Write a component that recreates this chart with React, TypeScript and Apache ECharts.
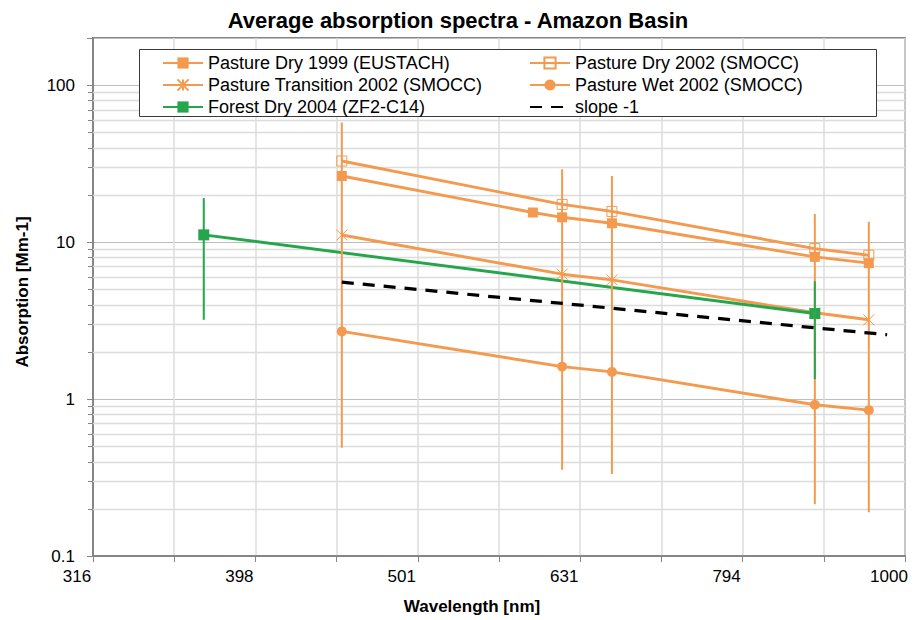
import React, { useEffect, useRef } from 'react';
import * as echarts from 'echarts';

// ---- data ----
const pastureDry1999Wl = [450, 590, 615, 660, 880, 950];
const pastureDry1999 = [26.4, 15.45, 14.4, 13.2, 8.06, 7.35];

const pastureDry2002Wl = [450, 615, 660, 880, 950];
const pastureDry2002 = [32.9, 17.4, 15.7, 9.1, 8.26];

const pastureTransitionWl = [450, 615, 660, 880, 950];
const pastureTransition2002 = [11.1, 6.25, 5.75, 3.55, 3.2];

const pastureWetWl = [450, 615, 660, 880, 950];
const pastureWet2002 = [2.7, 1.61, 1.49, 0.92, 0.85];

const forestWl = [370, 880];
const forestDry2004 = [11.13, 3.51];

const slopeWl = [450, 975];
const slopeMinusOne = [5.56, 2.57];

const pastureErrWl = [450, 615, 660, 880, 950];
const pastureErrLow = [0.49, 0.355, 0.333, 0.214, 0.19];
const pastureErrHigh = [57.8, 29.2, 26.4, 15.1, 13.5];

const forestErrWl = [370, 880];
const forestErrLow = [3.2, 1.34];
const forestErrHigh = [19.1, 5.63];

const xTickLabels = ['316', '398', '501', '631', '794', '1000'];
const yTickLabels = ['0.1', '1', '10', '100'];
const yMinorValues = [
  0.2, 0.3, 0.4, 0.5, 0.6, 0.7, 0.8, 0.9,
  2, 3, 4, 5, 6, 7, 8, 9,
  20, 30, 40, 50, 60, 70, 80, 90,
];

const ORANGE = '#F39A4E';
const GREEN = '#25A64C';
const FONT = '"Liberation Sans", Arial, sans-serif';
const AXIS_GRAY = '#868686';

const pairs = (xs: number[], ys: number[]) => xs.map((x, i) => [x, ys[i]]);
const triples = (xs: number[], lo: number[], hi: number[]) => xs.map((x, i) => [x, lo[i], hi[i]]);

const errorBarRender = (color: string) => (params: any, api: any) => {
  const x = api.value(0);
  const lo = api.coord([x, api.value(1)]);
  const hi = api.coord([x, api.value(2)]);
  return {
    type: 'line',
    shape: { x1: lo[0], y1: lo[1], x2: hi[0], y2: hi[1] },
    style: { stroke: color, lineWidth: 2 },
  };
};

export default function App() {
  const ref = useRef<HTMLDivElement>(null);

  useEffect(() => {
    if (!ref.current) return;
    const chart = echarts.init(ref.current, undefined, { renderer: 'svg' });

    const lineSeries = (name: string, data: number[][], symbol: string, symbolSize: number, color: string, itemStyle: any, z: number) => ({
      type: 'line',
      name,
      data,
      xAxisIndex: 0,
      yAxisIndex: 0,
      symbol,
      symbolSize,
      showAllSymbol: true,
      itemStyle,
      lineStyle: { color, width: 2.9 },
      z,
      silent: true,
    });

    const legendCommon = {
      orient: 'vertical',
      top: 54,
      padding: 0,
      itemWidth: 40,
      itemHeight: 14,
      itemGap: 4,
      selectedMode: false,
      z: 10,
      textStyle: { fontSize: 18, color: '#000', fontFamily: FONT },
    };

    const option: any = {
      animation: false,
      backgroundColor: '#ffffff',
      textStyle: { fontFamily: FONT },
      title: {
        text: 'Average absorption spectra - Amazon Basin',
        left: 'center',
        top: 4,
        textStyle: { fontSize: 22, fontWeight: 'bold', color: '#000', fontFamily: FONT },
      },
      grid: {
        left: 93,
        right: 11,
        top: 38,
        bottom: 63,
        show: true,
        borderColor: AXIS_GRAY,
        borderWidth: 2,
        backgroundColor: 'transparent',
      },
      legend: [
        {
          ...legendCommon,
          left: 162,
          data: ['Pasture Dry 1999 (EUSTACH)', 'Pasture Transition 2002 (SMOCC)', 'Forest Dry 2004 (ZF2-C14)'],
        },
        {
          ...legendCommon,
          left: 529,
          data: [
            'Pasture Dry 2002 (SMOCC)',
            'Pasture Wet 2002 (SMOCC)',
            { name: 'slope -1', itemStyle: { opacity: 0 } },
          ],
        },
      ],
      graphic: {
        elements: [
          {
            type: 'rect',
            z: 9,
            shape: { x: 139.5, y: 49.5, width: 737, height: 67 },
            style: { fill: '#ffffff', stroke: '#3a3a3a', lineWidth: 1 },
            silent: true,
          },
        ],
      },
      xAxis: [
        {
          type: 'log',
          logBase: 10,
          min: Math.pow(10, 2.5),
          max: 1000,
          show: false,
          gridIndex: 0,
        },
        {
          type: 'value',
          gridIndex: 0,
          position: 'bottom',
          min: 2.5,
          max: 3,
          interval: 0.05,
          axisLine: { show: true, lineStyle: { color: AXIS_GRAY, width: 2 } },
          axisTick: { show: true, inside: false, length: 6, lineStyle: { color: AXIS_GRAY, width: 1 } },
          axisLabel: {
            fontSize: 17,
            color: '#000',
            margin: 12,
            padding: [0, 32, 0, 0],
            showMinLabel: true,
            showMaxLabel: true,
            formatter: (v: number) => {
              const k = (v - 2.5) / 0.1;
              const r = Math.round(k);
              return Math.abs(k - r) < 1e-6 ? xTickLabels[r] : '';
            },
          },
          splitLine: { show: true, lineStyle: { color: '#DCDCDC', width: 1.5 } },
          name: 'Wavelength [nm]',
          nameLocation: 'middle',
          nameGap: 42,
          nameTextStyle: { fontSize: 17, fontWeight: 'bold', color: '#000', padding: [0, 54, 0, 0] },
        },
      ],
      yAxis: {
        type: 'log',
        logBase: 10,
        min: 0.1,
        max: 200,
        axisLine: { show: true, lineStyle: { color: AXIS_GRAY, width: 2 } },
        axisTick: { show: true, inside: false, length: 6, lineStyle: { color: AXIS_GRAY, width: 1 } },
        axisLabel: {
          fontSize: 17,
          color: '#000',
          margin: 18,
          formatter: (v: number) => {
            const l = Math.log10(v);
            const r = Math.round(l);
            return Math.abs(l - r) < 1e-6 ? yTickLabels[r + 1] ?? '' : '';
          },
        },
        splitLine: { show: true, lineStyle: { color: '#BEBEBE', width: 1 } },
        name: 'Absorption [Mm-1]',
        nameLocation: 'middle',
        nameGap: 62,
        nameTextStyle: { fontSize: 17, fontWeight: 'bold', color: '#000', padding: [0, 0, 0, 10] },
      },
      series: [
        {
          type: 'custom',
          name: 'minor-grid',
          silent: true,
          z: 1,
          xAxisIndex: 0,
          yAxisIndex: 0,
          data: yMinorValues.map((v) => [500, v]),
          encode: { x: 0, y: 1 },
          renderItem: (params: any, api: any) => {
            const cs = params.coordSys;
            const p = api.coord([500, api.value(1)]);
            const y = Math.round(p[1]) + 0.5;
            return {
              type: 'group',
              children: [
                { type: 'line', shape: { x1: cs.x, y1: y, x2: cs.x + cs.width, y2: y }, style: { stroke: '#DCDCDC', lineWidth: 1.5 } },
                { type: 'line', shape: { x1: cs.x - 5, y1: y, x2: cs.x, y2: y }, style: { stroke: AXIS_GRAY, lineWidth: 1 } },
              ],
            };
          },
        },
        lineSeries('Pasture Dry 1999 (EUSTACH)', pairs(pastureDry1999Wl, pastureDry1999), 'rect', 10, ORANGE, { color: ORANGE }, 2),
        lineSeries('Pasture Dry 2002 (SMOCC)', pairs(pastureDry2002Wl, pastureDry2002), 'rect', 10, ORANGE, { color: 'none', borderColor: ORANGE, borderWidth: 1 }, 2),
        lineSeries('Pasture Transition 2002 (SMOCC)', pairs(pastureTransitionWl, pastureTransition2002), 'path://M0 0L10 10M10 0L0 10M5 0L5 10', 11, ORANGE, { color: 'none', borderColor: ORANGE, borderWidth: 1 }, 2),
        lineSeries('Pasture Wet 2002 (SMOCC)', pairs(pastureWetWl, pastureWet2002), 'circle', 10, ORANGE, { color: ORANGE }, 2),
        lineSeries('Forest Dry 2004 (ZF2-C14)', pairs(forestWl, forestDry2004), 'rect', 11, GREEN, { color: GREEN }, 3),
        {
          type: 'custom',
          name: 'pasture-error',
          silent: true,
          z: 4,
          xAxisIndex: 0,
          yAxisIndex: 0,
          data: triples(pastureErrWl, pastureErrLow, pastureErrHigh),
          encode: { x: 0, y: [1, 2] },
          renderItem: errorBarRender(ORANGE),
        },
        {
          type: 'custom',
          name: 'forest-error',
          silent: true,
          z: 5,
          xAxisIndex: 0,
          yAxisIndex: 0,
          data: triples(forestErrWl, forestErrLow, forestErrHigh),
          encode: { x: 0, y: [1, 2] },
          renderItem: errorBarRender(GREEN),
        },
        {
          type: 'line',
          name: 'slope -1',
          data: pairs(slopeWl, slopeMinusOne),
          xAxisIndex: 0,
          yAxisIndex: 0,
          symbol: 'none',
          itemStyle: { color: '#000' },
          lineStyle: { color: '#000', width: 3.25, type: [12, 9] },
          z: 6,
          silent: true,
        },
      ],
    };

    chart.setOption(option);
    return () => chart.dispose();
  }, []);

  return (
    <div
      ref={ref}
      style={{ position: 'fixed', left: 0, top: 0, width: 916, height: 620, background: '#fff' }}
    />
  );
}
